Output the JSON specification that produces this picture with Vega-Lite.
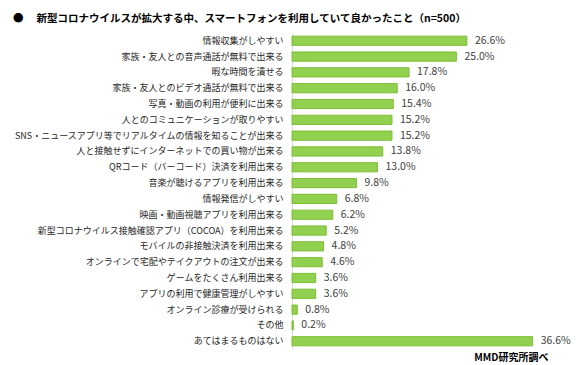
{
  "$schema": "https://vega.github.io/schema/vega-lite/v6.json",
  "width": 263,
  "height": 316,
  "autosize": {"type": "none"},
  "padding": {"left": 292, "top": 33, "right": 25, "bottom": 16},
  "background": "white",
  "config": {"view": {"stroke": null}, "font": "Noto Sans CJK JP"},
  "title": {
    "text": "●　 新型コロナウイルスが拡大する中、スマートフォンを利用していて良かったこと（n=500）",
    "anchor": "start",
    "frame": "group",
    "dx": -279,
    "offset": 9,
    "fontSize": 10.5,
    "fontWeight": "bold",
    "color": "#000000",
    "font": "Noto Sans CJK JP"
  },
  "data": {
    "values": [
      {"item": "情報収集がしやすい", "value": 26.6, "label": "26.6%"},
      {"item": "家族・友人との音声通話が無料で出来る", "value": 25.0, "label": "25.0%"},
      {"item": "暇な時間を潰せる", "value": 17.8, "label": "17.8%"},
      {"item": "家族・友人とのビデオ通話が無料で出来る", "value": 16.0, "label": "16.0%"},
      {"item": "写真・動画の利用が便利に出来る", "value": 15.4, "label": "15.4%"},
      {"item": "人とのコミュニケーションが取りやすい", "value": 15.2, "label": "15.2%"},
      {"item": "SNS・ニュースアプリ等でリアルタイムの情報を知ることが出来る", "value": 15.2, "label": "15.2%"},
      {"item": "人と接触せずにインターネットでの買い物が出来る", "value": 13.8, "label": "13.8%"},
      {"item": "QRコード（バーコード）決済を利用出来る", "value": 13.0, "label": "13.0%"},
      {"item": "音楽が聴けるアプリを利用出来る", "value": 9.8, "label": "9.8%"},
      {"item": "情報発信がしやすい", "value": 6.8, "label": "6.8%"},
      {"item": "映画・動画視聴アプリを利用出来る", "value": 6.2, "label": "6.2%"},
      {"item": "新型コロナウイルス接触確認アプリ（COCOA）を利用出来る", "value": 5.2, "label": "5.2%"},
      {"item": "モバイルの非接触決済を利用出来る", "value": 4.8, "label": "4.8%"},
      {"item": "オンラインで宅配やテイクアウトの注文が出来る", "value": 4.6, "label": "4.6%"},
      {"item": "ゲームをたくさん利用出来る", "value": 3.6, "label": "3.6%"},
      {"item": "アプリの利用で健康管理がしやすい", "value": 3.6, "label": "3.6%"},
      {"item": "オンライン診療が受けられる", "value": 0.8, "label": "0.8%"},
      {"item": "その他", "value": 0.2, "label": "0.2%"},
      {"item": "あてはまるものはない", "value": 36.6, "label": "36.6%"}
    ]
  },
  "encoding": {
    "y": {
      "field": "item",
      "type": "nominal",
      "sort": null,
      "scale": {"paddingInner": 0.42, "paddingOuter": 0.2},
      "axis": {
        "title": null,
        "ticks": false,
        "domain": true,
        "domainColor": "#d9d9d9",
        "labelFontSize": 9,
        "labelColor": "#262626",
        "labelPadding": 9,
        "labelLimit": 290,
        "labelFont": "Noto Sans CJK JP"
      }
    },
    "x": {
      "field": "value",
      "type": "quantitative",
      "scale": {"domain": [0, 40]},
      "axis": {
        "title": "MMD研究所調べ",
        "titleAnchor": "end",
        "titleAlign": "right",
        "titleFontSize": 10,
        "titleFontWeight": "bold",
        "titleColor": "#000000",
        "titlePadding": 3,
        "titleX": 256,
        "labels": false,
        "ticks": false,
        "domain": false,
        "grid": false
      }
    }
  },
  "layer": [
    {
      "mark": {"type": "bar", "fill": "#92D050", "stroke": "#7DBE32", "strokeWidth": 1}
    },
    {
      "mark": {"type": "text", "align": "left", "dx": 8, "fontSize": 10.5, "color": "#404040", "font": "Noto Sans CJK JP"},
      "encoding": {"text": {"field": "label"}}
    }
  ]
}
